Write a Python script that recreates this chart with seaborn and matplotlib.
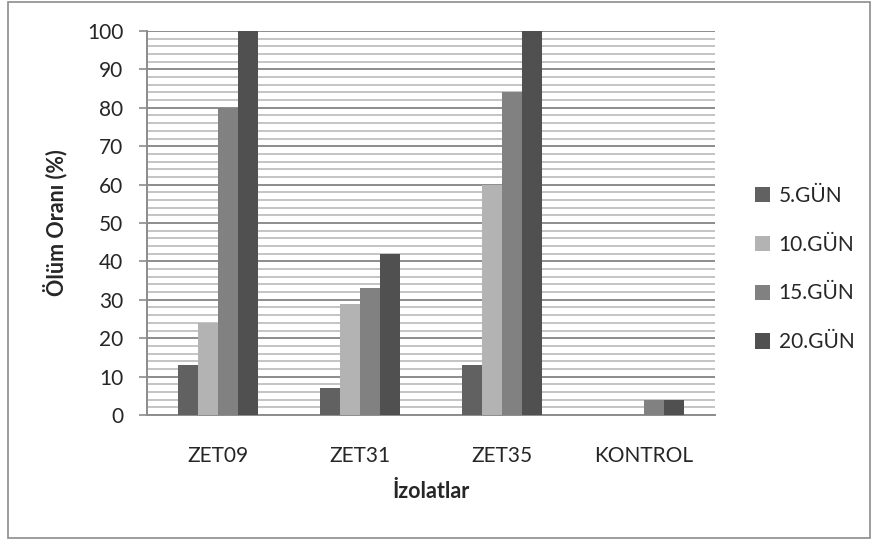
import matplotlib
matplotlib.use("Agg")
import matplotlib.pyplot as plt
from matplotlib.ticker import MultipleLocator
import seaborn as sns
import pandas as pd

# Mortality rate (%) per isolate on each observation day
isolates = ["ZET09", "ZET31", "ZET35", "KONTROL"]
days = ["5.GÜN", "10.GÜN", "15.GÜN", "20.GÜN"]
day5 = [13, 7, 13, 0]
day10 = [24, 29, 60, 0]
day15 = [80, 33, 84, 4]
day20 = [100, 42, 100, 4]
bar_colors = ["#616161", "#b3b3b3", "#818181", "#505050"]

series = [day5, day10, day15, day20]
rows = []
for day, vals in zip(days, series):
    for iso, v in zip(isolates, vals):
        rows.append({"İzolatlar": iso, "Gün": day, "Oran": v})
df = pd.DataFrame(rows)

sns.set_style("white")
plt.rcParams["font.family"] = ["Lato", "DejaVu Sans"]

fig = plt.figure(figsize=(8.77, 5.40), dpi=100)
ax = fig.add_axes([147 / 877, 1 - 415 / 540, (715 - 147) / 877, (415 - 31) / 540])

sns.barplot(data=df, x="İzolatlar", y="Oran", hue="Gün", order=isolates,
            hue_order=days, palette=bar_colors, width=0.56, gap=0,
            edgecolor="none", linewidth=0, saturation=1, ax=ax, zorder=3)

ax.set_ylim(0, 100)
ax.set_xlim(-0.5, len(isolates) - 0.5)
ax.yaxis.set_major_locator(MultipleLocator(10))
ax.yaxis.set_minor_locator(MultipleLocator(2))
ax.grid(which="minor", axis="y", color="#c4c4c4", linewidth=1.4, zorder=0)
ax.grid(which="major", axis="y", color="#8c8c8c", linewidth=1.4, zorder=1)
ax.set_axisbelow(True)

for side in ["top", "right"]:
    ax.spines[side].set_visible(False)
for side in ["left", "bottom"]:
    ax.spines[side].set_color("#8c8c8c")
    ax.spines[side].set_linewidth(1.4)

ax.tick_params(axis="y", which="major", length=6, width=1.2, color="#8c8c8c",
               labelsize=15, pad=11, left=True)
ax.tick_params(axis="y", which="minor", length=0)
ax.tick_params(axis="x", length=0, labelsize=15, pad=22)

ax.set_ylabel("Ölüm Oranı (%)", fontsize=15.5, fontweight="bold", labelpad=14)
ax.set_xlabel("İzolatlar", fontsize=15.5, fontweight="bold", labelpad=11)

ax.legend(title=None, frameon=False, fontsize=15, loc="center left",
          bbox_to_anchor=(1.055, 0.38), handlelength=0.75, handleheight=0.75,
          labelspacing=1.38, handletextpad=0.4, borderaxespad=0)

# thin frame around the whole chart
border = plt.Rectangle((8 / 877, 2 / 540), (870 - 8) / 877, (538 - 2) / 540,
                       transform=fig.transFigure, fill=False,
                       edgecolor="#8c8c8c", linewidth=1.2)
fig.patches.append(border)

fig.savefig("out.png", dpi=100)
